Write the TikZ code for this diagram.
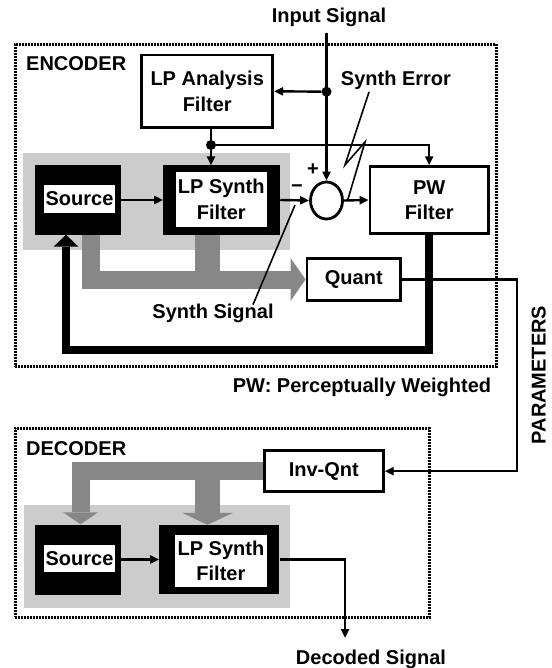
\documentclass[tikz,border=0pt]{standalone}
\usepackage{fontspec}
\setmainfont{Liberation Sans}
\usetikzlibrary{arrows.meta,shapes.geometric}
\definecolor{lgrey}{RGB}{204,204,204}
\definecolor{dgrey}{RGB}{135,135,135}
\begin{document}
\begin{tikzpicture}[x=1pt,y=-1pt,
  txt/.style={font=\fontsize{20pt}{25.5pt}\selectfont\bfseries, inner sep=0pt, align=center},
  wbox/.style={txt, draw, line width=2.8pt, fill=white},
  blk/.style={fill=black, inner sep=0pt},
  wlab/.style={txt, fill=white},
  dotbox/.style={draw, line width=3pt, dash pattern=on 2pt off 1pt, inner sep=0pt},
  greg/.style={fill=lgrey, inner sep=0pt},
  conn/.style={line width=2.4pt},
  arr/.style={-{Triangle[length=9pt,width=8pt]}},
  garrow/.style={draw=dgrey, line width=18pt, line join=miter},
  jdot/.style={circle, fill=black, inner sep=0pt, minimum size=10pt},
  thinl/.style={line width=1.6pt},
]
\useasboundingbox (0,0) rectangle (551,668);

% frames
\node[dotbox, minimum width=481pt, minimum height=322pt] (enc) at (255.5,205.5) {};
\node[dotbox, minimum width=414.5pt, minimum height=189pt] (dec) at (222.25,522.8) {};

% grey regions
\node[greg, minimum width=266.7pt, minimum height=96.7pt] (gE) at (156.65,201.65) {};
\node[greg, minimum width=266pt, minimum height=103.3pt] (gD) at (157,556.65) {};

% labels
\node[txt, anchor=base] (insig) at (329,22.7) {Input Signal};
\node[txt, anchor=base west] (enclab) at (26,70.3) {ENCODER};
\node[txt, anchor=base] (serr) at (396,86) {Synth Error};
\node[txt, anchor=base] (ssig) at (213,318.3) {Synth Signal};
\node[txt, anchor=base] (pwlab) at (362,392.5) {PW: Perceptually Weighted};
\node[txt, anchor=base west] (declab) at (26,455) {DECODER};
\node[txt, anchor=base] (dsig) at (371,664.5) {Decoded Signal};
\node[txt, anchor=base, rotate=90] (params) at (545.5,375) {PARAMETERS};
\node[txt, anchor=base] (plus) at (313,176) {+};
\node[txt, anchor=base] (minus) at (297,193) {−};

% encoder boxes
\node[wbox, minimum width=131pt, minimum height=72.7pt] (lpa) at (207.2,91.3) {LP Analysis\\Filter};
\node[blk, minimum width=85.7pt, minimum height=69pt] (srcE) at (77.9,200) {};
\node[blk, minimum width=116.7pt, minimum height=69pt] (lpE) at (221.7,200) {};
\node[wbox, minimum width=118.3pt, minimum height=66.6pt] (pw) at (429.2,200) {PW\\Filter};
\node[wbox, minimum width=93.7pt, minimum height=42.4pt] (quant) at (353.8,279.5) {Quant};
\node[draw, line width=2.8pt, ellipse, inner sep=0pt, minimum width=32pt, minimum height=37pt] (sum) at (326.5,200.5) {};

% decoder boxes
\node[wbox, minimum width=119pt, minimum height=41pt] (iq) at (323.8,471.2) {Inv-Qnt};
\node[blk, minimum width=85.7pt, minimum height=70pt] (srcD) at (77.9,559.5) {};
\node[blk, minimum width=120pt, minimum height=69pt] (lpD) at (219.3,559.5) {};

% grey parameter arrows
\coordinate (lsE) at (207.5,288);
\draw[garrow, line width=25pt] (lsE |- lpE.south) -- (lsE);
\draw[garrow, -{Triangle[length=15pt,width=43pt,line width=0pt]}] ([xshift=13pt]srcE.south) |- (quant.west);
\coordinate (lsD) at (207.5,464);
\draw[garrow, -{Triangle[length=12pt,width=35pt,line width=0pt]}] (iq.west) -| ([xshift=2.6pt]srcD.north);
\draw[garrow, line width=25pt, -{Triangle[length=12pt,width=51pt,line width=0pt]}] (lsD) -- (lsD |- lpD.north);

% white labels inside black boxes
\node[wlab, minimum width=71pt, minimum height=27pt] (srcEt) at (79.5,199) {Source};
\node[wlab, minimum width=91.5pt, minimum height=55pt] (lpEt) at (221.25,199.5) {LP Synth\\Filter};
\node[wlab, minimum width=71pt, minimum height=26.7pt] (srcDt) at (79.5,558.4) {Source};
\node[wlab, minimum width=91.7pt, minimum height=52pt] (lpDt) at (220.9,561) {LP Synth\\Filter};

% encoder connectors
\coordinate (inTop) at (326.5,33);
\node[jdot] (j1) at (326.5,91.7) {};
\node[jdot] (j2) at (211,145) {};
\draw[line width=3.2pt, arr] (inTop) -- (sum.north);
\draw[conn, arr] (j1) -- (lpa.east);
\draw[conn, line width=2.8pt] (j2 |- lpa.south) -- (j2);
\draw[conn, arr] (j2) -- (j2 |- lpE.north);
\draw[conn, arr] (j2) -| (pw.north);
\draw[conn, arr] (srcE.east) -- (lpE.west);
\draw[conn, arr] (lpE.east) -- (sum.west);
\draw[conn, arr] (sum.east) -- (pw.west);
\coordinate (fbA) at (429.2,350);
\coordinate (fbB) at (66,350);
\draw[line width=8pt, line join=miter, -{Triangle[length=12pt,width=25pt,line width=0pt]}] (pw.south) -- (fbA) -- (fbB) -- (fbB |- srcE.south);
\coordinate (qa) at (516.7,279.5);
\coordinate (qb) at (516.7,471.2);
\draw[conn, arr] (quant.east) -- (qa) -- (qb) -- (iq.east);
\draw[thinl] (369,92) -- (345,165) -- (365,142) -- (348,199);
\draw[thinl] (ssig.north) ++(40pt,-1pt) -- (295,205);

% decoder connectors
\draw[conn, arr] (srcD.east) -- (lpD.west);
\coordinate (dout) at (345,559.5);
\coordinate (dend) at (345,638);
\draw[conn, arr] (lpD.east) -- (dout) -- (dend);
\end{tikzpicture}
\end{document}
